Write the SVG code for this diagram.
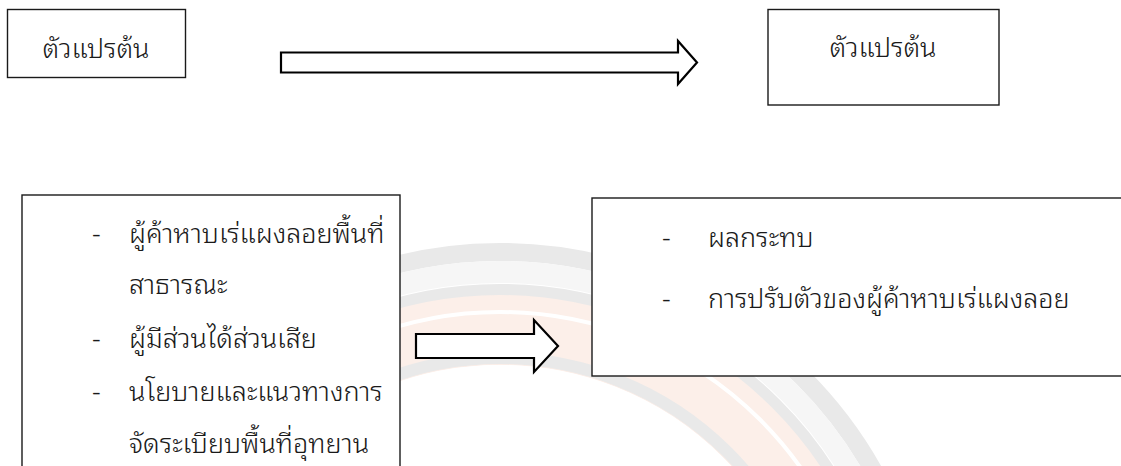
<svg xmlns="http://www.w3.org/2000/svg" width="1121" height="466" viewBox="0 0 1121 466">
  <style>
    .box { fill: #ffffff; stroke: #1a1a1a; stroke-width: 1.4; }
    .arrow { fill: #ffffff; stroke: #000000; stroke-width: 2.2; stroke-linejoin: miter; }
    .t { font-family: "Noto Sans Thai Looped", "Noto Sans Thai", "Noto Sans", sans-serif; font-size: 27px; font-weight: 300; fill: #1a1a1a; }
    .c { text-anchor: middle; }
    .wm-grey { fill: none; stroke: #e9e9e9; }
    .wm-pink { fill: none; stroke: #fcefe9; }
    .wm-white { fill: none; stroke: #ffffff; }
  </style>
  <rect x="0" y="0" width="1121" height="466" fill="#ffffff"/>
  <g id="watermark">
    <circle class="wm-grey" cx="500" cy="680" r="428" stroke-width="18"/>
    <circle cx="500" cy="680" r="408" fill="none" stroke="#f6f6f6" stroke-width="22"/>
    <circle class="wm-grey" cx="500" cy="680" r="390" stroke-width="12"/>
    <circle class="wm-pink" cx="500" cy="680" r="350" stroke-width="70"/>
    <circle class="wm-white" cx="500" cy="680" r="368" stroke-width="4"/>
    <circle class="wm-grey" cx="500" cy="680" r="322" stroke-width="12"/>
    <circle class="wm-white" cx="500" cy="680" r="312" stroke-width="6"/>
    <circle cx="500" cy="680" r="300" fill="#ffffff"/>
  </g>
  <g id="node-top-left">
    <rect class="box" x="7.5" y="9.5" width="178" height="68"/>
    <text class="t c" x="96" y="58">ตัวแปรต้น</text>
  </g>
  <g id="node-top-right">
    <rect class="box" x="768" y="9.5" width="231" height="95.5"/>
    <text class="t c" x="883" y="57">ตัวแปรต้น</text>
  </g>
  <g id="node-bottom-left">
    <rect class="box" x="22" y="195" width="378" height="290"/>
    <text class="t" x="92" y="243">-</text>
    <text class="t" x="129" y="243">ผู้ค้าหาบเร่แผงลอยพื้นที่</text>
    <text class="t" x="129" y="294">สาธารณะ</text>
    <text class="t" x="92" y="348">-</text>
    <text class="t" x="129" y="348">ผู้มีส่วนได้ส่วนเสีย</text>
    <text class="t" x="92" y="401">-</text>
    <text class="t" x="129" y="401">นโยบายและแนวทางการ</text>
    <text class="t" x="129" y="453">จัดระเบียบพื้นที่อุทยาน</text>
  </g>
  <g id="node-bottom-right">
    <rect class="box" x="592" y="198" width="560" height="178"/>
    <text class="t" x="662" y="247">-</text>
    <text class="t" x="708" y="247">ผลกระทบ</text>
    <text class="t" x="662" y="308">-</text>
    <text class="t" x="708" y="308">การปรับตัวของผู้ค้าหาบเร่แผงลอย</text>
  </g>
  <g id="connectors">
    <polygon class="arrow" points="281,52.5 678,52.5 678,41 697,62.5 678,84 678,72.5 281,72.5"/>
    <polygon class="arrow" points="416,334 534,334 534,320 558,346 534,372 534,358 416,358"/>
  </g>
</svg>
